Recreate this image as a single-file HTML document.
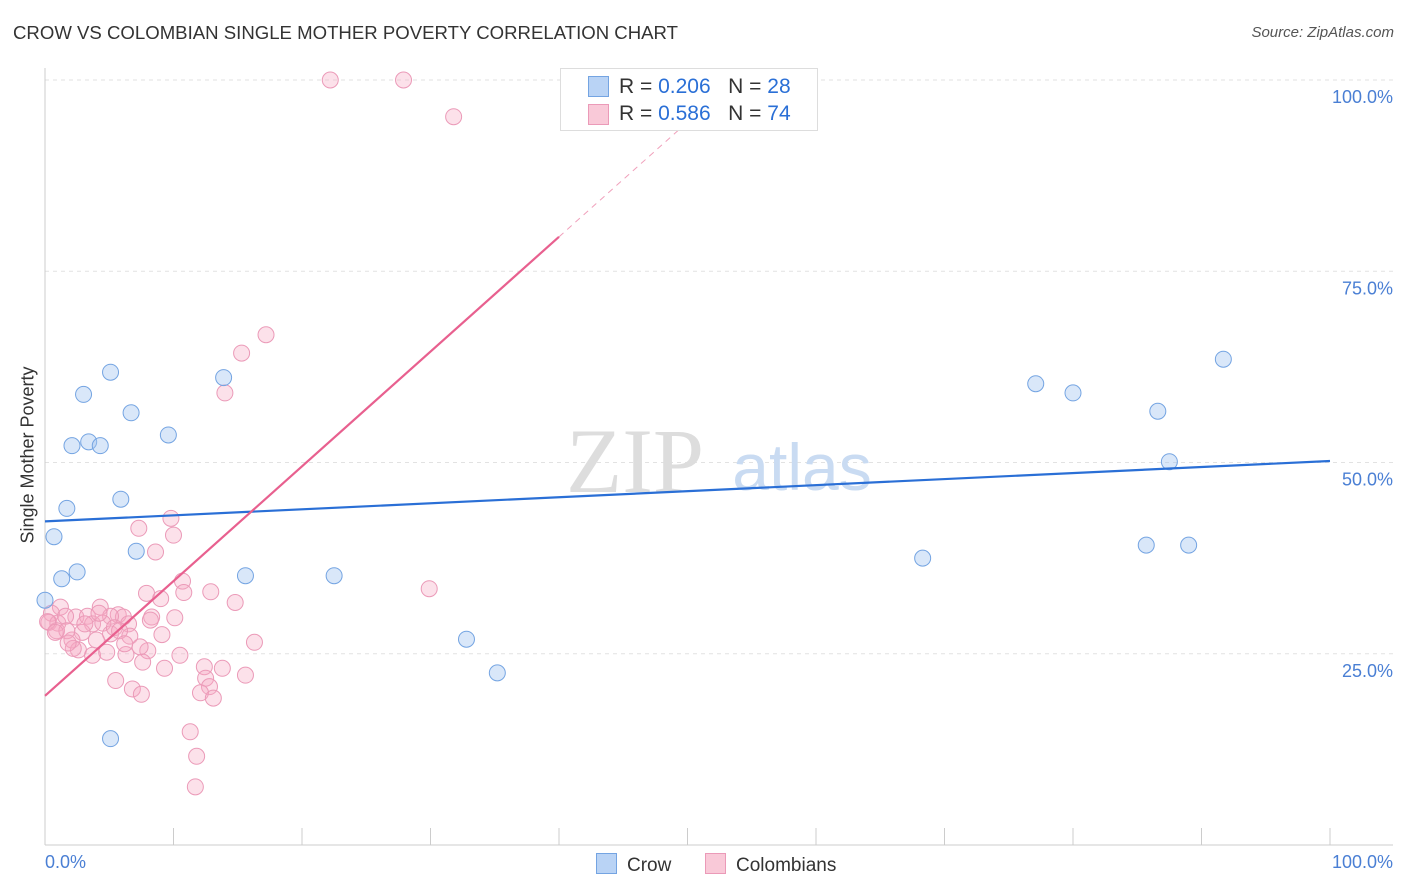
<!DOCTYPE html>
<html><head><meta charset="utf-8"><style>
body{margin:0;background:#fff;font-family:"Liberation Sans",sans-serif;}
#c{position:relative;width:1406px;height:892px;overflow:hidden}
</style></head><body><div id="c">
<svg id="s" width="1406" height="892"></svg></div>
<script>
const crowX=[0.7,1.3,1.7,2.1,2.5,3.0,3.4,4.3,5.1,5.9,6.7,7.1,5.1,9.6,13.9,15.6,22.5,32.8,35.2,68.3,77.1,80.0,86.6,87.5,85.7,89.0,91.7,0];
const crowY=[40.3,34.8,44.0,52.2,35.7,58.9,52.7,52.2,61.8,45.2,56.5,38.4,13.9,53.6,61.1,35.2,35.2,26.9,22.5,37.5,60.3,59.1,56.7,50.1,39.2,39.2,63.5,32.0];
const colX=[22.2,27.9,31.8,17.2,15.3,14.0,7.3,9.8,10.0,8.6,10.7,10.8,7.9,9.0,12.9,14.8,29.9,4.3,5.7,6.1,2.4,1.2,0.5,0.3,1.0,1.6,3.3,5.1,3.7,4.5,6.5,8.3,10.1,6.6,9.1,2.9,2.1,2.6,3.7,2.2,5.1,6.3,8.0,10.5,16.3,9.3,12.4,13.8,7.6,5.5,6.8,7.5,12.5,12.8,12.1,13.1,15.6,11.3,11.8,11.7,0.9,0.2,3.1,4.2,5.4,5.8,7.4,1.7,8.2,1.8,4.0,4.8,6.2,0.8];
const colY=[100,100,95.2,66.7,64.3,59.1,41.4,42.7,40.5,38.3,34.5,33.0,32.9,32.2,33.1,31.7,33.5,31.1,30.1,29.8,29.8,31.1,30.3,29.1,29.0,29.9,29.9,29.9,28.9,29.0,28.9,29.8,29.7,27.3,27.5,27.8,26.8,25.5,24.8,25.7,27.6,24.9,25.4,24.8,26.5,23.1,23.3,23.1,23.9,21.5,20.4,19.7,21.8,20.7,19.9,19.2,22.2,14.8,11.6,7.6,28.0,29.2,28.9,30.3,28.4,28.0,25.9,28.0,29.4,26.4,26.8,25.2,26.3,27.8];
const trendIntercept=[42.3,19.5];
const trendSlope=[0.079,1.5];
const yTicks=[25,50,75,100];
const X0=45,X1=1330,Y0=845,Y100=80;
const sx=v=>X0+(X1-X0)*v/100, sy=v=>Y0-(Y0-Y100)*v/100;
const s=document.getElementById('s');const NS='http://www.w3.org/2000/svg';
function el(t,a,txt){const e=document.createElementNS(NS,t);for(const k in a)e.setAttribute(k,a[k]);if(txt!==undefined)e.textContent=txt;s.appendChild(e);return e;}
yTicks.forEach(t=>{const g=el('line',{x1:45,x2:1393,y1:sy(t),y2:sy(t),stroke:'#e2e2e2','stroke-dasharray':'4,4'});


const l=el('text',{x:1393,y:sy(t)+23,'text-anchor':'end',fill:'#4a7fd4','font-size':18},t.toFixed(1)+'%');

});
el('line',{x1:45,x2:45,y1:68,y2:845,stroke:'#ccc'});
el('line',{x1:45,x2:1393,y1:845,y2:845,stroke:'#ccc'});
for(let i=0;i<=10;i++){const t=el('line',{x1:sx(i*10),x2:sx(i*10),y1:828,y2:845,stroke:'#ccc'});

}
const wm=el('text',{x:635,y:492,'text-anchor':'middle','font-size':92,fill:'#ddd','font-family':'Liberation Serif'},'ZIP');


const wm2=el('text',{x:802,y:490,'text-anchor':'middle','font-size':66,fill:'#c9dbf2'},'atlas');


colX.forEach((x,i)=>{const c=el('circle',{cx:sx(x),cy:sy(colY[i]),r:8,fill:'rgba(246,170,196,0.35)',stroke:'#eb9ab8','stroke-width':1});

});
crowX.forEach((x,i)=>{const c=el('circle',{cx:sx(x),cy:sy(crowY[i]),r:8,fill:'rgba(160,196,240,0.4)',stroke:'#74a4e2','stroke-width':1});

});
const b=el('line',{x1:sx(0),y1:sy(trendIntercept[0]),x2:sx(100),y2:sy(trendIntercept[0]+trendSlope[0]*100),stroke:'#2a6fd6','stroke-width':2.2});


const xe=40, xm=(100-trendIntercept[1])/trendSlope[1];
const p=el('line',{x1:sx(0),y1:sy(trendIntercept[1]),x2:sx(xe),y2:sy(trendIntercept[1]+trendSlope[1]*xe),stroke:'#e8608f','stroke-width':2.2});


const pd=el('line',{x1:sx(xe),y1:sy(trendIntercept[1]+trendSlope[1]*xe),x2:sx(xm),y2:sy(100),stroke:'#f0a0bb','stroke-width':1,'stroke-dasharray':'6,5'});


</script>
<div style="position:absolute;left:13px;top:22px;font-size:18.6px;color:#333">CROW VS COLOMBIAN SINGLE MOTHER POVERTY CORRELATION CHART</div>
<div style="position:absolute;right:12px;top:24px;font-size:15px;color:#555;font-style:italic">Source: ZipAtlas.com</div>
<div style="position:absolute;left:28px;top:455px;transform:translate(-50%,-50%) rotate(-90deg);font-size:18px;color:#333;white-space:nowrap">Single Mother Poverty</div>
<div style="position:absolute;left:45px;top:852px;font-size:18px;color:#4a7fd4">0.0%</div>
<div style="position:absolute;right:13px;top:852px;font-size:18px;color:#4a7fd4">100.0%</div>
<div style="position:absolute;left:560px;top:68px;width:256px;height:61px;border:1px solid #ddd;background:#fff;font-size:21px;color:#333">
<div style="position:absolute;left:27px;top:7px;width:19px;height:19px;background:#b9d3f5;border:1px solid #74a4e2"></div>
<div style="position:absolute;left:58px;top:6px">R = <span style="color:#2a6fd6">0.206</span>&nbsp;&nbsp;&nbsp;N = <span style="color:#2a6fd6">28</span></div>
<div style="position:absolute;left:27px;top:35px;width:19px;height:19px;background:#f9c9d8;border:1px solid #eb9ab8"></div>
<div style="position:absolute;left:58px;top:33px">R = <span style="color:#2a6fd6">0.586</span>&nbsp;&nbsp;&nbsp;N = <span style="color:#2a6fd6">74</span></div></div>
<div style="position:absolute;left:596px;top:853px;font-size:19px;color:#333"><span style="display:inline-block;width:19px;height:19px;background:#b9d3f5;border:1px solid #74a4e2;vertical-align:-3px;margin-right:10px"></span>Crow</div>
<div style="position:absolute;left:705px;top:853px;font-size:19px;color:#333"><span style="display:inline-block;width:19px;height:19px;background:#f9c9d8;border:1px solid #eb9ab8;vertical-align:-3px;margin-right:10px"></span>Colombians</div>
</div></body></html>
